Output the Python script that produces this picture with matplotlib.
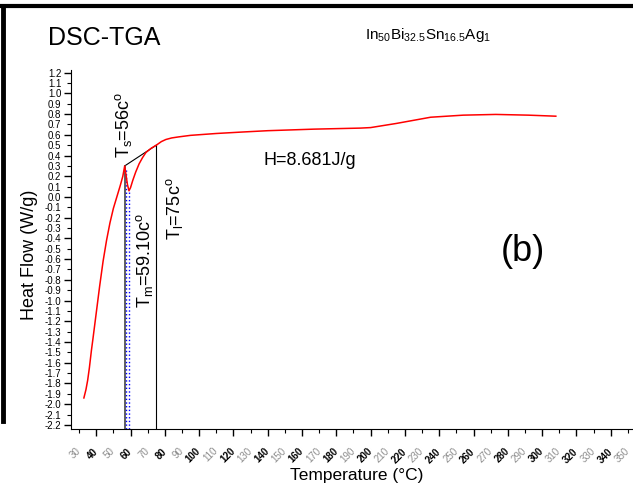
import matplotlib
matplotlib.use("Agg")
import matplotlib.pyplot as plt
from matplotlib.lines import Line2D

plt.rcParams['font.family'] = ['Liberation Sans', 'DejaVu Sans']
plt.rcParams['mathtext.default'] = 'regular'

# DSC curve (temperature in C, heat flow in W/g)
temp = [32.8, 34.0, 35.0, 36.0, 37.2, 38.0, 40.0, 42.0, 44.0, 46.0, 48.0, 50.0,
        52.0, 54.0, 55.5, 56.6, 57.3, 58.2, 59.1, 60.0, 61.3, 63.0, 65.0, 67.0,
        69.0, 72.0, 75.0, 78.0, 80.6, 84.0, 88.0, 95.0, 110.0, 125.0, 140.0,
        167.0, 194.0, 200.0, 215.0, 235.0, 254.0, 273.0, 292.0, 308.0]
heat_flow = [-1.94, -1.86, -1.77, -1.65, -1.48, -1.38, -1.12, -0.86, -0.62, -0.42,
             -0.25, -0.11, 0.00, 0.11, 0.20, 0.30, 0.22, 0.12, 0.06, 0.09, 0.16,
             0.24, 0.32, 0.38, 0.43, 0.47, 0.50, 0.535, 0.555, 0.57, 0.58, 0.595,
             0.613, 0.627, 0.64, 0.655, 0.665, 0.67, 0.71, 0.77, 0.79, 0.797,
             0.79, 0.78]

# characteristic points
t_s, hf_s = 56.6, 0.30      # solidus (peak)
t_m, hf_m = 59.1, 0.06      # melting (dip)
t_l, hf_l = 75.0, 0.50      # liquidus

x_major = list(range(40, 341, 20))
x_minor = list(range(30, 351, 20))
y_major = [round(-2.2 + 0.2 * i, 1) for i in range(18)]
y_minor = [round(-2.1 + 0.2 * i, 1) for i in range(17)]

fig = plt.figure(figsize=(6.33, 4.95), dpi=100)
ax = fig.add_axes([0.1122, 0.1333, 0.8878, 0.7253])

ax.plot(temp, heat_flow, color='red', linewidth=1.1, zorder=3)

# construction lines
ymin = -2.24
ax.plot([t_s, t_l], [hf_s, hf_l], color='black', linewidth=0.8)
ax.plot([t_s, t_s], [ymin, hf_s], color='#444444', linewidth=1.2)
ax.plot([t_s + 0.5, t_s + 0.5], [ymin, 0.26], color='blue', linewidth=1.0, linestyle=':')
ax.plot([t_m, t_m], [ymin, hf_m], color='blue', linewidth=1.0, linestyle=':')
ax.plot([t_l, t_l], [ymin, hf_l], color='black', linewidth=0.8)

ax.set_xlim(25.3, 353)
ax.set_ylim(ymin, 1.226)

for side in ['top', 'right']:
    ax.spines[side].set_visible(False)

# x ticks: bold black majors, light grey minors, both labelled
ax.set_xticks(x_major, labels=[str(v) for v in x_major])
ax.set_xticks(x_minor, labels=[str(v) for v in x_minor], minor=True)
ax.tick_params(axis='x', which='major', direction='out', length=5, width=1, pad=10)
ax.tick_params(axis='x', which='minor', direction='out', length=3, width=0.8, pad=11.5)
for lab in ax.get_xticklabels():
    lab.set_rotation(45)
    lab.set_rotation_mode('anchor')
    lab.set_fontsize(7)
    lab.set_fontweight('bold')
    lab.set_ha('right')
    lab.set_va('center')
for lab in ax.get_xticklabels(minor=True):
    lab.set_rotation(45)
    lab.set_rotation_mode('anchor')
    lab.set_fontsize(7)
    lab.set_color('#8c8c8c')
    lab.set_ha('right')
    lab.set_va('center')

# y ticks
ax.set_yticks(y_major, labels=['%.1f' % v for v in y_major])
ax.set_yticks(y_minor, labels=['%.1f' % v for v in y_minor], minor=True)
ax.tick_params(axis='y', which='major', direction='out', length=5, width=1, pad=2, labelsize=7)
ax.tick_params(axis='y', which='minor', direction='out', length=3, width=0.8, pad=4, labelsize=7)

# annotations
ax.text(55.9, 0.377, r'$T_s$=56c$^o$', rotation=90, ha='center', va='bottom', fontsize=13)
ax.text(68.0, -1.07, r'$T_m$=59.10c$^o$', rotation=90, ha='center', va='bottom', fontsize=13)
ax.text(85.4, -0.415, r'$T_l$=75c$^o$', rotation=90, ha='center', va='bottom', fontsize=13)
ax.text(137.4, 0.357, 'H=8.681J/g', ha='left', va='center', fontsize=13)
ax.text(288.8, -0.53, '(b)', ha='center', va='center', fontsize=26)

fig.text(0.047, 0.485, 'Heat Flow (W/g)', rotation=90, ha='center', va='center', fontsize=13)
fig.text(0.564, 0.04, 'Temperature (°C)', ha='center', va='center', fontsize=12.5)
fig.text(0.0758, 0.923, 'DSC-TGA', ha='left', va='center', fontsize=18)
fig.text(0.577, 0.93, r'In$_{50}$Bi$_{32.5}$Sn$_{16.5}$Ag$_1$', ha='left', va='center', fontsize=11)

# black frame at top and left of the picture
fig.add_artist(Line2D([0, 1], [1 - 6 / 495, 1 - 6 / 495], color='black', linewidth=3, transform=fig.transFigure))
fig.add_artist(Line2D([2.5 / 633, 2.5 / 633], [1 - 6 / 495, 0.15], color='black', linewidth=3.5, transform=fig.transFigure))

fig.savefig('out.png', dpi=100)
